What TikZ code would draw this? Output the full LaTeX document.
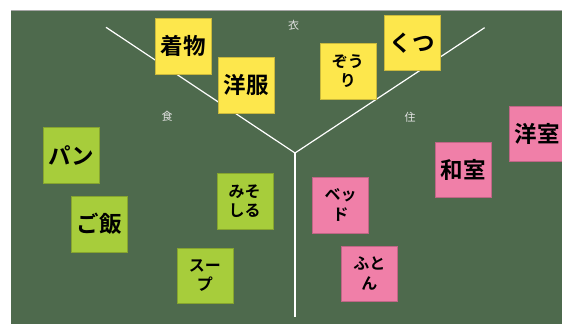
\documentclass[tikz,border=0pt]{standalone}
\usepackage{fontspec}
\newfontfamily\jp{Noto Sans CJK JP}
\newfontfamily\jpb{Noto Sans CJK JP Bold}
\definecolor{board}{HTML}{4E6A4D}
\definecolor{notey}{HTML}{FDE74C}
\definecolor{noteg}{HTML}{A7CD3B}
\definecolor{notep}{HTML}{F07FA8}
\definecolor{lbl}{HTML}{E2E2E2}
\tikzset{
  note/.style={minimum width=56pt, minimum height=55.5pt, inner sep=0pt, line width=0.4pt, text=black, align=center},
  bignote/.style={note, font=\jpb\fontsize{22.5}{26}\selectfont},
  smallnote/.style={note, font=\jpb\fontsize{16}{19.5}\selectfont},
  yel/.style={fill=notey, draw=notey!80!black},
  grn/.style={fill=noteg, draw=noteg!80!black},
  pnk/.style={fill=notep, draw=notep!80!black},
  arm/.style={draw=white, line width=1.2pt},
  cat/.style={text=lbl, font=\jp\fontsize{11}{12}\selectfont, inner sep=0pt}
}
\begin{document}
\begin{tikzpicture}[x=1pt,y=-1pt]
\useasboundingbox (0,0) rectangle (562,324);
\fill[white] (0,0) rectangle (562,324);
\clip (0,0) rectangle (562,324);
\fill[board] (11,10) rectangle (562,324);
\draw[gray!70, line width=0.8pt] (11,10) -- (562,10);
% arms
\coordinate (lt) at (106,27.3);
\coordinate (rt) at (484.6,27.7);
\coordinate (ctr) at (295,153);
\coordinate (bot) at (295,317.3);
\draw[arm] (lt) -- (ctr) -- (rt);
\draw[arm] (ctr) -- (bot);
% category labels
\node[cat] (i) at (293.5,25) {衣};
\node[cat] (s) at (167,116) {食};
\node[cat] (j) at (410,117) {住};
% clothing
\node[bignote, yel] (kimono) at (183,46) {着物};
\node[bignote, yel] (yofuku) at (246.3,85) {洋服};
\node[smallnote, yel] (zori) at (347.8,71.3) {ぞう\\り};
\node[bignote, yel] (kutsu) at (412.2,42.8) {くつ};
% food
\node[bignote, grn] (pan) at (71.4,155) {パン};
\node[bignote, grn] (gohan) at (99,224) {ご飯};
\node[smallnote, grn] (miso) at (244.7,201) {みそ\\しる};
\node[smallnote, grn] (soup) at (204.8,275.5) {スー\\プ};
% housing
\node[smallnote, pnk] (bed) at (340.5,205) {ベッ\\ド};
\node[smallnote, pnk] (futon) at (369.3,273.5) {ふと\\ん};
\node[bignote, pnk] (washitsu) at (463.2,169.5) {和室};
\node[bignote, pnk] (yoshitsu) at (537,133.7) {洋室};
\end{tikzpicture}
\end{document}
